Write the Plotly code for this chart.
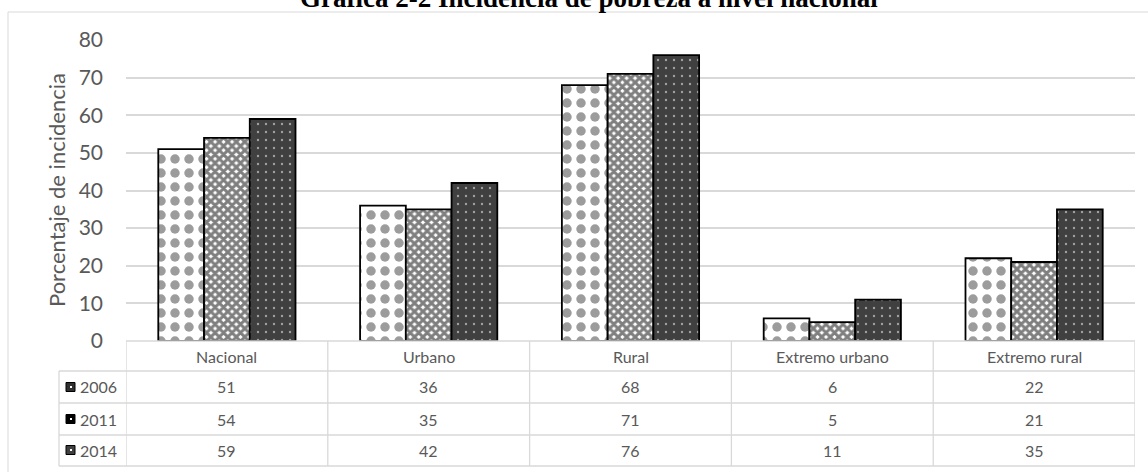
import plotly.graph_objects as go

categories = ["Nacional", "Urbano", "Rural", "Extremo urbano", "Extremo rural"]
years = ["2006", "2011", "2014"]
values_2006 = [51, 36, 68, 6, 22]
values_2011 = [54, 35, 71, 5, 21]
values_2014 = [59, 42, 76, 11, 35]
series = [values_2006, values_2011, values_2014]
table_values_2006 = [51, 36, 68, 6, 22]
table_values_2011 = [54, 35, 71, 5, 21]
table_values_2014 = [59, 42, 76, 11, 35]
table_rows = [table_values_2006, table_values_2011, table_values_2014]
title_text = "Gráfica 2-2 Incidencia de pobreza a nivel nacional"
y_title = "Porcentaje de incidencia"
y_ticks = [0, 10, 20, 30, 40, 50, 60, 70, 80]

W, H = 1148, 472
L, R, T, B = 126, 1135, 40, 341  # plot area in px
PW, PH = R - L, B - T


def px(x):
    return (x - L) / PW


def py(y):
    return (B - y) / PH


patterns = [
    dict(shape=".", bgcolor="white", fgcolor="#3a3a3a", size=14, solidity=0.36),
    dict(shape="x", bgcolor="white", fgcolor="black", size=6, solidity=0.75),
    dict(shape=".", bgcolor="#404040", fgcolor="white", size=8, solidity=0.07),
]
base_colors = ["white", "white", "#404040"]

fig = go.Figure()
for yr, vals, pat, col in zip(years, series, patterns, base_colors):
    fig.add_trace(go.Bar(
        x=categories, y=vals, name=yr,
        marker=dict(color=col, pattern=pat, line=dict(color="black", width=1.8)),
        hoverinfo="x+y+name",
    ))

grey = "#595959"
line_col = "#d9d9d9"
font_family = "Lato"
tbl_size = 16

shapes = []
annotations = []

# outer chart border
shapes.append(dict(type="rect", xref="paper", yref="paper",
                   x0=px(8), x1=px(1152), y0=py(480), y1=py(12),
                   line=dict(color=line_col, width=1), fillcolor="rgba(0,0,0,0)", layer="below"))

# table lines
row_y = [341, 371, 403, 435, 466]
for i, yy in enumerate(row_y):
    x0 = px(126) if i == 0 else px(59)
    shapes.append(dict(type="line", xref="paper", yref="paper",
                       x0=x0, x1=px(1135), y0=py(yy), y1=py(yy),
                       line=dict(color=line_col, width=1.3)))
shapes.append(dict(type="line", xref="paper", yref="paper",
                   x0=px(59), x1=px(59), y0=py(371), y1=py(466),
                   line=dict(color=line_col, width=1.3)))
for k in range(len(categories) + 1):
    shapes.append(dict(type="line", xref="x", yref="paper",
                       x0=k - 0.5, x1=k - 0.5, y0=py(341), y1=py(466),
                       line=dict(color=line_col, width=1.3)))

# header texts
for c in categories:
    annotations.append(dict(x=c, xref="x", y=py(356), yref="paper", text=c,
                            showarrow=False, font=dict(family=font_family, size=tbl_size, color=grey),
                            xanchor="center", yanchor="middle"))

row_centers = [387, 419, 450]
key_fills = ["#303030", "black", "#404040"]
for yr, vals, yc, kf in zip(years, table_rows, row_centers, key_fills):
    for c, v in zip(categories, vals):
        annotations.append(dict(x=c, xref="x", y=py(yc), yref="paper", text=str(v),
                                showarrow=False, font=dict(family=font_family, size=tbl_size, color=grey),
                                xanchor="center", yanchor="middle"))
    annotations.append(dict(x=px(78), xref="paper", y=py(yc), yref="paper", text=yr,
                            showarrow=False, font=dict(family=font_family, size=tbl_size, color=grey),
                            xanchor="left", yanchor="middle"))
    shapes.append(dict(type="rect", xref="paper", yref="paper",
                       x0=px(66), x1=px(75), y0=py(yc + 4.5), y1=py(yc - 4.5),
                       line=dict(color="black", width=1), fillcolor=kf))
    shapes.append(dict(type="rect", xref="paper", yref="paper",
                       x0=px(70), x1=px(72), y0=py(yc + 1), y1=py(yc - 1),
                       line=dict(width=0), fillcolor="white"))

# y title
annotations.append(dict(x=px(56), xref="paper", y=py(190), yref="paper", text=y_title,
                        textangle=-90, showarrow=False,
                        font=dict(family=font_family, size=22, color=grey),
                        xanchor="center", yanchor="middle"))
# chart title (clipped at top)
annotations.append(dict(x=px(589), xref="paper", y=py(15), yref="paper", text="<b>" + title_text + "</b>",
                        showarrow=False,
                        font=dict(family="Liberation Serif", size=27, color="black"),
                        xanchor="center", yanchor="bottom"))

fig.update_layout(
    width=W, height=H,
    margin=dict(l=L, r=W - R, t=T, b=H - B, pad=0),
    paper_bgcolor="white", plot_bgcolor="white",
    barmode="group", bargap=0.32, bargroupgap=0,
    showlegend=False,
    shapes=shapes, annotations=annotations,
    font=dict(family=font_family, color=grey),
)
fig.update_xaxes(range=[-0.5, 4.5], showticklabels=False, showgrid=False,
                 zeroline=False, showline=False, ticks="")
fig.update_yaxes(range=[0, 80], tickvals=y_ticks, showgrid=True, gridcolor=line_col,
                 gridwidth=1.5, zeroline=False, showline=False, ticks="",
                 ticklabelstandoff=22, tickfont=dict(family=font_family, size=21, color=grey))

fig.write_html("out.html")
